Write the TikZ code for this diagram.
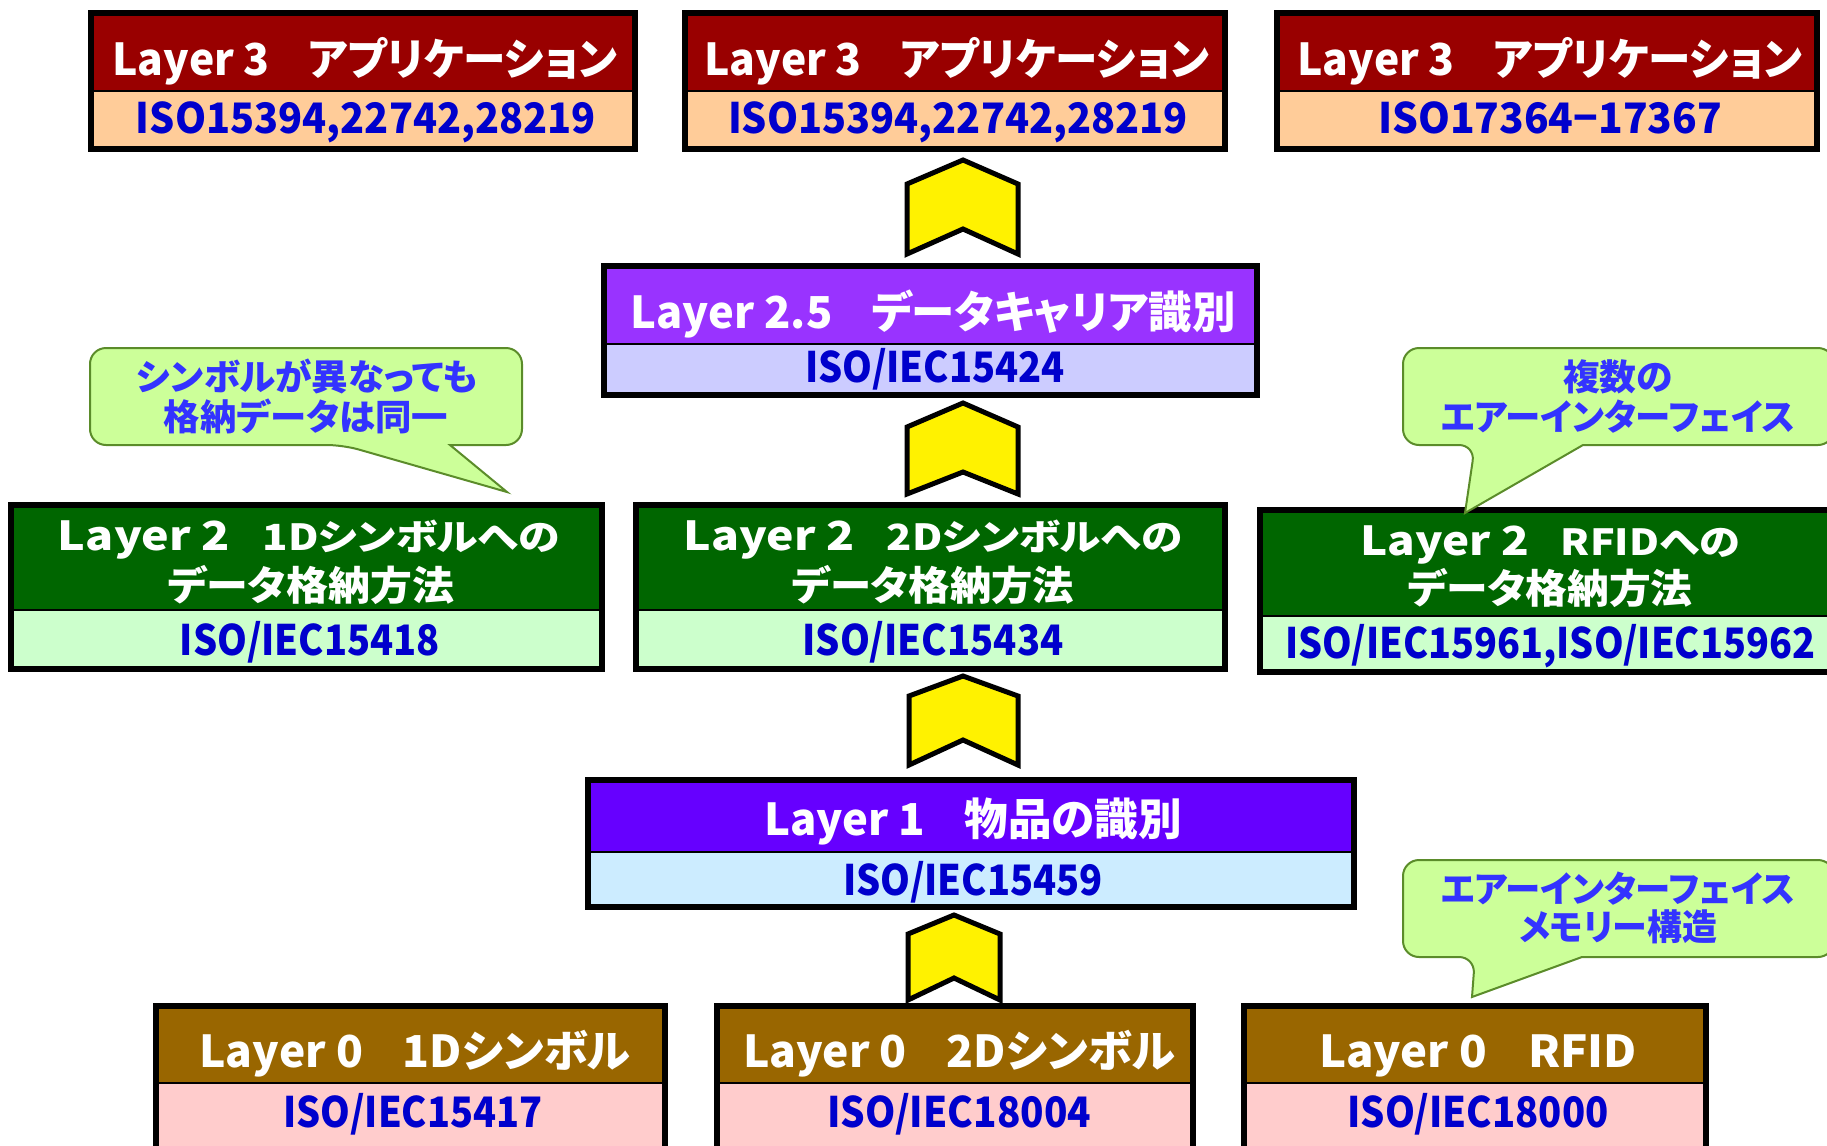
\documentclass[tikz,border=0pt]{standalone}
\usepackage{fontspec}
\usepackage{graphicx}
\usetikzlibrary{fit}
\newfontfamily\jp{Noto Sans CJK JP}[RawFeature=+palt]
\newlength\pxu \setlength\pxu{0.5pt}
\newcommand\fitw[2]{\resizebox{#1\pxu}{\height}{#2}}
\definecolor{cthreetop}{HTML}{990000}
\definecolor{cthreebot}{HTML}{FFCC99}
\definecolor{ctwfivetop}{HTML}{9933FF}
\definecolor{ctwfivebot}{HTML}{CCCCFF}
\definecolor{ctwotop}{HTML}{006600}
\definecolor{ctwobot}{HTML}{CCFFCC}
\definecolor{conetop}{HTML}{6600FF}
\definecolor{conebot}{HTML}{CCECFF}
\definecolor{czerotop}{HTML}{996600}
\definecolor{czerobot}{HTML}{FFCCCC}
\definecolor{isoblue}{HTML}{0000CC}
\definecolor{noteblue}{HTML}{3333FF}
\definecolor{notefill}{HTML}{CCFF99}
\definecolor{noteline}{HTML}{5B8C2A}
\tikzset{
  band/.style={inner sep=0pt, outer sep=0pt, draw=none},
  divline/.style={line width=1.2pt, draw=black},
  boxline/.style={line width=3pt, draw=black, line join=miter},
  chevron/.style={fill=yellow, draw=black, line width=2.5pt, line join=miter},
  callout/.style={fill=notefill, draw=noteline, line width=1pt},
  hdr/.style={anchor=base, inner sep=0pt, text=white, font=\jp\bfseries\fontsize{22}{26}\selectfont},
  hdrtwo/.style={anchor=base, inner sep=0pt, text=white, font=\jp\bfseries\fontsize{20}{24}\selectfont},
  iso/.style={anchor=base, inner sep=0pt, text=isoblue, font=\jp\bfseries\fontsize{21}{25}\selectfont},
  note/.style={anchor=base, inner sep=0pt, text=noteblue, font=\jp\bfseries\fontsize{18}{21}\selectfont},
}
% name, x1, x2, ytop, ydiv, ybot, topcolour, bottomcolour
\newcommand\layerbox[8]{%
  \node[band, fill=#7, fit={(#2,#4) (#3,#5)}] (#1h) {};
  \node[band, fill=#8, fit={(#2,#5) (#3,#6)}] (#1c) {};
  \draw[divline] (#1h.south west) -- (#1h.south east);
  \draw[boxline] (#1h.north west) rectangle (#1c.south east);
}
% xl, xr, cx, ytip, yshoulder, ynotch, ybottom
\newcommand\chevshape[7]{%
  \draw[chevron] (#1,#5) -- (#3,#4) -- (#2,#5) -- (#2,#7) -- (#3,#6) -- (#1,#7) -- cycle;
}
\begin{document}
\begin{tikzpicture}[x=0.5pt, y=-0.5pt]
\useasboundingbox (0,0) rectangle (1827,1146);
\clip (0,0) rectangle (1827,1146);

% Layer 3 boxes
\layerbox{A}{91}{635}{13}{91}{149}{cthreetop}{cthreebot}
\layerbox{B}{685}{1225}{13}{91}{149}{cthreetop}{cthreebot}
\layerbox{C}{1277}{1817}{13}{91}{149}{cthreetop}{cthreebot}
\node[hdr] (At) at (365,75) {\fitw{505}{Layer 3\hspace{0.9em}アプリケーション}};
\node[iso] (Ai) at (366,133) {\fitw{460}{ISO15394,22742,28219}};
\node[hdr] (Bt) at (957,75) {\fitw{505}{Layer 3\hspace{0.9em}アプリケーション}};
\node[iso] (Bi) at (958,133) {\fitw{460}{ISO15394,22742,28219}};
\node[hdr] (Ct) at (1550,75) {\fitw{505}{Layer 3\hspace{0.9em}アプリケーション}};
\node[iso] (Ci) at (1550,133) {\fitw{344}{ISO17364−17367}};

% Layer 2.5
\layerbox{M}{604}{1257}{266}{344}{395}{ctwfivetop}{ctwfivebot}
\node[hdr] (Mt) at (933,328) {\fitw{605}{Layer 2.5\hspace{0.9em}データキャリア識別}};
\node[iso] (Mi) at (935,382) {\fitw{260}{ISO/IEC15424}};

% Layer 2
\layerbox{L}{11}{602}{505}{610}{669}{ctwotop}{ctwobot}
\node[hdrtwo] (Lta) at (309,550) {\fitw{502}{Layer 2\hspace{0.7em}{\fontsize{18}{21}\selectfont 1Dシンボルへの}}};
\node[hdrtwo] (Ltb) at (311,600) {\fitw{286}{データ格納方法}};
\node[iso] (Li) at (310,655) {\fitw{260}{ISO/IEC15418}};

\layerbox{D}{636}{1225}{505}{610}{669}{ctwotop}{ctwobot}
\node[hdrtwo] (Dta) at (933,550) {\fitw{499}{Layer 2\hspace{0.7em}{\fontsize{18}{21}\selectfont 2Dシンボルへの}}};
\node[hdrtwo] (Dtb) at (933,600) {\fitw{282}{データ格納方法}};
\node[iso] (Di) at (933,655) {\fitw{261}{ISO/IEC15434}};

\layerbox{R}{1260}{1845}{510}{616}{672}{ctwotop}{ctwobot}
\node[hdrtwo] (Rta) at (1550,555) {\fitw{380}{Layer 2\hspace{0.7em}{\fontsize{18}{21}\selectfont RFIDへの}}};
\node[hdrtwo] (Rtb) at (1550,603) {\fitw{285}{データ格納方法}};
\node[iso] (Ri) at (1550,658) {\fitw{530}{ISO/IEC15961,ISO/IEC15962}};

% Layer 1
\layerbox{O}{588}{1354}{780}{852}{907}{conetop}{conebot}
\node[hdr] (Ot) at (973,835) {\fitw{418}{Layer 1\hspace{0.9em}物品の識別}};
\node[iso] (Oi) at (973,895) {\fitw{260}{ISO/IEC15459}};

% Layer 0
\layerbox{P}{156}{665}{1006}{1083}{1175}{czerotop}{czerobot}
\node[hdr] (Pt) at (415,1067) {\fitw{431}{Layer 0\hspace{0.9em}1Dシンボル}};
\node[iso] (Pi) at (413,1127) {\fitw{259}{ISO/IEC15417}};

\layerbox{Q}{717}{1193}{1006}{1083}{1175}{czerotop}{czerobot}
\node[hdr] (Qt) at (959,1067) {\fitw{432}{Layer 0\hspace{0.9em}2Dシンボル}};
\node[iso] (Qi) at (959,1127) {\fitw{264}{ISO/IEC18004}};

\layerbox{S}{1244}{1706}{1006}{1083}{1175}{czerotop}{czerobot}
\node[hdr] (St) at (1478,1067) {\fitw{318}{Layer 0\hspace{0.9em}RFID}};
\node[iso] (Si) at (1478,1127) {\fitw{261}{ISO/IEC18000}};

% chevrons
\chevshape{907}{1018}{963}{160}{184}{229}{254}
\chevshape{907}{1018}{963}{403}{427}{472}{494}
\chevshape{909}{1018}{963}{676}{696}{740}{765}
\chevshape{908}{1000}{954}{915}{934}{978}{1000}

% callouts
\draw[callout] (450,445) [rounded corners=8pt] -- (522,445) -- (522,348) -- (90,348) -- (90,445) -- (343,445) [sharp corners] -- (507,492) -- cycle;
\node[note] (Na) at (307,390) {\fitw{341}{シンボルが異なっても}};
\node[note] (Nb) at (306,430) {\fitw{284}{格納データは同一}};

\draw[callout] (1583,445) [rounded corners=8pt] -- (1834,445) -- (1834,348) -- (1403,348) -- (1403,445) -- (1475,445) [sharp corners] -- (1465,513) -- cycle;
\node[note] (Nc) at (1618,390) {\fitw{110}{複数の}};
\node[note] (Nd) at (1618,430) {\fitw{354}{エアーインターフェイス}};

\draw[callout] (1582,957) [rounded corners=8pt] -- (1834,957) -- (1834,860) -- (1403,860) -- (1403,957) -- (1475,957) [sharp corners] -- (1472,997) -- cycle;
\node[note] (Ne) at (1618,902) {\fitw{354}{エアーインターフェイス}};
\node[note] (Nf) at (1618,940) {\fitw{198}{メモリー構造}};
\end{tikzpicture}
\end{document}
